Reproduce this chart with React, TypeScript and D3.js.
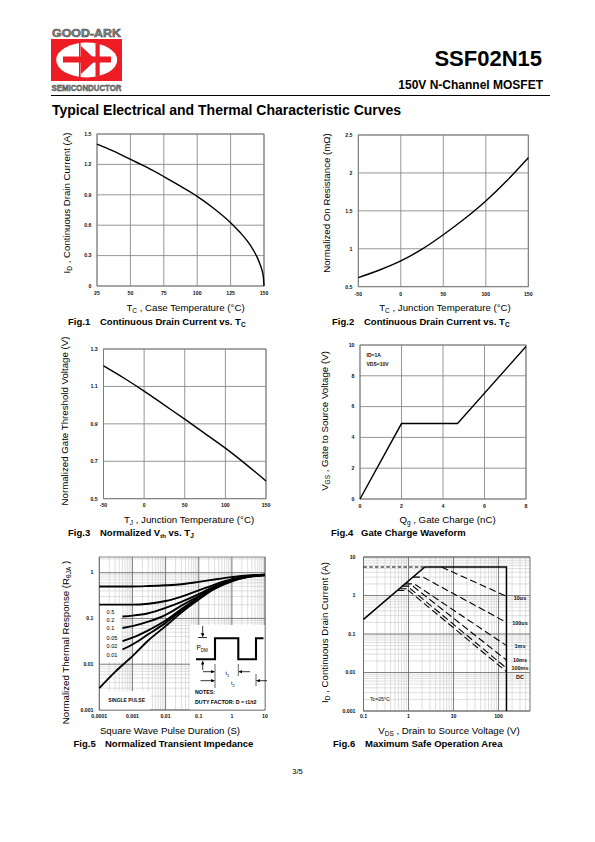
import React from "react";
import * as d3 from "d3";

const FONT = "'Liberation Sans', Arial, Helvetica, sans-serif";

type Pt = [number, number];
const zip = (xs: number[], ys: number[]): Pt[] => xs.map((v, i) => [v, ys[i]] as Pt);

// ---------- Fig.1 : Continuous drain current vs Tc
const fig1Temp = [25, 37.5, 50, 62.5, 75, 87.5, 100, 112.5, 125, 132, 138, 142, 145, 147, 148.5, 149.5, 150];
const fig1Current = [1.4, 1.33, 1.25, 1.17, 1.08, 0.985, 0.885, 0.765, 0.625, 0.53, 0.435, 0.355, 0.28, 0.215, 0.155, 0.09, 0];
const fig1XTicks = [25, 50, 75, 100, 125, 150];
const fig1YTicks = [0, 0.3, 0.6, 0.9, 1.2, 1.5];
const fig1YLabels = ["0", "0.3", "0.6", "0.9", "1.2", "1.5"];

// ---------- Fig.2 : Normalized on resistance vs Tj
const fig2Temp = [-50, -25, 0, 25, 50, 75, 100, 125, 150];
const fig2Res = [0.62, 0.72, 0.84, 0.995, 1.185, 1.395, 1.63, 1.9, 2.2];
const fig2XTicks = [-50, 0, 50, 100, 150];
const fig2YTicks = [0.5, 1, 1.5, 2, 2.5];
const fig2YLabels = ["0.5", "1", "1.5", "2", "2.5"];

// ---------- Fig.3 : Normalized Vth vs Tj
const fig3Temp = [-50, -25, 0, 25, 50, 75, 100, 125, 150];
const fig3Vth = [1.21, 1.145, 1.075, 1.0, 0.925, 0.848, 0.77, 0.685, 0.595];
const fig3XTicks = [-50, 0, 50, 100, 150];
const fig3YTicks = [0.5, 0.7, 0.9, 1.1, 1.3];
const fig3YLabels = ["0.5", "0.7", "0.9", "1.1", "1.3"];

// ---------- Fig.4 : Gate charge
const fig4Charge = [0, 2, 4.7, 8];
const fig4Vgs = [0, 4.9, 4.9, 9.9];
const fig4XTicks = [0, 2, 4, 6, 8];
const fig4YTicks = [0, 2, 4, 6, 8, 10];

// ---------- Fig.5 : Transient thermal impedance
const fig5TimeFull = [1e-4, 3e-4, 1e-3, 3e-3, 1e-2, 3e-2, 0.1, 0.3, 1, 3, 10];
const fig5TimeShort = [5e-4, 1e-3, 3e-3, 1e-2, 3e-2, 0.1, 0.3, 1, 3, 10];
const fig5D05 = [0.5, 0.5, 0.5, 0.51, 0.53, 0.56, 0.63, 0.71, 0.8, 0.87, 0.9];
const fig5D02 = [0.2, 0.2, 0.2, 0.21, 0.24, 0.3, 0.41, 0.55, 0.72, 0.84, 0.9];
const fig5D01 = [0.11, 0.115, 0.13, 0.17, 0.23, 0.34, 0.5, 0.69, 0.83, 0.9];
const fig5D005 = [0.062, 0.068, 0.085, 0.12, 0.19, 0.31, 0.48, 0.68, 0.82, 0.89];
const fig5D002 = [0.032, 0.038, 0.055, 0.09, 0.16, 0.29, 0.47, 0.67, 0.82, 0.89];
const fig5D001 = [0.021, 0.027, 0.045, 0.08, 0.15, 0.28, 0.46, 0.66, 0.81, 0.89];
const fig5Single = [0.003, 0.0068, 0.015, 0.033, 0.068, 0.135, 0.26, 0.44, 0.65, 0.8, 0.88];
const fig5DutyLabels = ["0.5", "0.2", "0.1", "0.05", "0.02", "0.01"];
const fig5XTicks = [1e-4, 1e-3, 1e-2, 0.1, 1, 10];
const fig5XLabels = ["0.0001", "0.001", "0.01", "0.1", "1", "10"];
const fig5YTicks = [0.001, 0.01, 0.1, 1];
const fig5YLabels = ["0.001", "0.01", "0.1", "1"];

// ---------- Fig.6 : Safe operating area
const soaBoundV = [0.1, 2.3, 150, 150];
const soaBoundI = [0.24, 5.5, 5.5, 0.001];
const soaExtV = [0.1, 2.3];
const soaExtI = [5.5, 5.5];
const soa10usV = [5.4, 150];
const soa10usI = [5.5, 0.95];
const soa100usV = [1.25, 2.1, 150];
const soa100usI = [3.0, 3.0, 0.2];
const soa1msV = [0.83, 1.35, 150];
const soa1msI = [2.0, 2.0, 0.05];
const soa10msV = [0.73, 1.25, 150];
const soa10msI = [1.75, 1.75, 0.021];
const soa100msV = [0.63, 1.1, 150];
const soa100msI = [1.5, 1.5, 0.013];
const soaDCV = [0.56, 1.0, 150];
const soaDCI = [1.35, 1.35, 0.0105];
const soaLabels = ["10us", "100us", "1ms", "10ms", "100ms", "DC"];
const soaLabelY = [600, 624.5, 647.5, 662, 670, 678.5];
const fig6XTicks = [0.1, 1, 10, 100];
const fig6XLabels = ["0.1", "1", "10", "100"];
const fig6YTicks = [0.001, 0.01, 0.1, 1, 10];
const fig6YLabels = ["0.001", "0.01", "0.1", "1", "10"];

const TICK: any = { fontFamily: FONT, fontSize: 5.2, fontWeight: 700, fill: "#111" };
const TITLE: any = { fontFamily: FONT, fontSize: 9.7, fill: "#000" };
const CAP: any = { fontFamily: FONT, fontSize: 9.5, fontWeight: 700, fill: "#000" };

// main text + subscript + rest, as tspans
function subText(main: string, sub: string, rest: string, size = 6.5) {
  return [
    <tspan key="m">{main}</tspan>,
    <tspan key="s" fontSize={size} dy={2}>{sub}</tspan>,
    ...(rest ? [<tspan key="r" dy={-2}>{rest}</tspan>] : []),
  ];
}

type LinProps = {
  l: number; r: number; t: number; b: number;
  xDomain: [number, number]; yDomain: [number, number];
  xTicks: number[]; yTicks: number[]; yLabels?: string[];
  data: Pt[]; curve?: any; yLabelX: number; xLabelY: number;
};

function LinearPanel(p: LinProps) {
  const x = d3.scaleLinear().domain(p.xDomain).range([p.l, p.r]);
  const y = d3.scaleLinear().domain(p.yDomain).range([p.b, p.t]);
  const line = d3.line<Pt>().x((d) => x(d[0])).y((d) => y(d[1])).curve(p.curve || d3.curveMonotoneX);
  return (
    <g>
      {p.xTicks.map((t, i) => (
        <line key={"gx" + i} x1={x(t)} x2={x(t)} y1={p.t} y2={p.b} stroke="#8a8a8a" strokeWidth={0.9} />
      ))}
      {p.yTicks.map((t, i) => (
        <line key={"gy" + i} x1={p.l} x2={p.r} y1={y(t)} y2={y(t)} stroke="#8a8a8a" strokeWidth={0.9} />
      ))}
      <rect x={p.l} y={p.t} width={p.r - p.l} height={p.b - p.t} fill="none" stroke="#7a7a7a" strokeWidth={0.9} />
      {p.xTicks.map((t, i) => (
        <text key={"lx" + i} x={x(t)} y={p.xLabelY} textAnchor="middle" {...TICK}>{String(t)}</text>
      ))}
      {p.yTicks.map((t, i) => (
        <text key={"ly" + i} x={p.yLabelX} y={y(t) + 1.8} textAnchor="end" {...TICK}>
          {p.yLabels ? p.yLabels[i] : String(t)}
        </text>
      ))}
      <path d={line(p.data) || ""} fill="none" stroke="#000" strokeWidth={1.4} />
    </g>
  );
}

function LogGrid(props: { x: any; y: any; l: number; r: number; t: number; b: number; majorX: number[]; majorY: number[] }) {
  const { x, y, l, r, t, b } = props;
  const minorX = x.ticks();
  const minorY = y.ticks();
  return (
    <g>
      {minorX.map((v: number, i: number) => (
        <line key={"mx" + i} x1={x(v)} x2={x(v)} y1={t} y2={b} stroke="#c4c4c4" strokeWidth={0.55} />
      ))}
      {minorY.map((v: number, i: number) => (
        <line key={"my" + i} x1={l} x2={r} y1={y(v)} y2={y(v)} stroke="#c4c4c4" strokeWidth={0.55} />
      ))}
      {props.majorX.map((v, i) => (
        <line key={"Mx" + i} x1={x(v)} x2={x(v)} y1={t} y2={b} stroke="#6a6a6a" strokeWidth={0.8} />
      ))}
      {props.majorY.map((v, i) => (
        <line key={"My" + i} x1={l} x2={r} y1={y(v)} y2={y(v)} stroke="#6a6a6a" strokeWidth={0.8} />
      ))}
    </g>
  );
}

function Fig5() {
  const l = 99.3, r = 265, t = 557, b = 710;
  const x = d3.scaleLog().domain([1e-4, 10]).range([l, r]);
  const y = d3.scaleLog().domain([0.001, 2.2]).range([b, t]);
  const line = d3.line<Pt>().x((d) => x(d[0])).y((d) => y(d[1])).curve(d3.curveMonotoneX);
  const curves: Pt[][] = [
    zip(fig5TimeFull, fig5D05),
    zip(fig5TimeFull, fig5D02),
    zip(fig5TimeShort, fig5D01),
    zip(fig5TimeShort, fig5D005),
    zip(fig5TimeShort, fig5D002),
    zip(fig5TimeShort, fig5D001),
    zip(fig5TimeFull, fig5Single),
  ];
  const dutyY = [613.5, 621.5, 630, 639.5, 648, 656.5];
  return (
    <g>
      <LogGrid x={x} y={y} l={l} r={r} t={t} b={b} majorX={fig5XTicks} majorY={fig5YTicks} />
      <rect x={l} y={t} width={r - l} height={b - t} fill="none" stroke="#6a6a6a" strokeWidth={0.8} />
      <rect x={100} y={604} width={21} height={58} fill="#fff" />
      <rect x={100} y={691} width={50} height={18.5} fill="#fff" />
      <rect x={190} y={625} width={74.5} height={84.5} fill="#fff" />
      {curves.map((c, i) => (
        <path key={"c" + i} d={line(c) || ""} fill="none" stroke="#000" strokeWidth={1.9} />
      ))}
      {fig5DutyLabels.map((s, i) => (
        <text key={"d" + i} x={106.5} y={dutyY[i]} fontFamily={FONT} fontSize={5.6} fill="#000">{s}</text>
      ))}
      <text x={108.3} y={701.8} fontFamily={FONT} fontSize={5} fontWeight={700} fill="#111">SINGLE PULSE</text>
      <path d="M196,659.3 H215 V638.3 H238.3 V659.3 H256 V638.3 H263.5" fill="none" stroke="#000" strokeWidth={2.1} />
      <line x1={202.7} x2={202.7} y1={626} y2={636.8} stroke="#000" strokeWidth={0.8} markerEnd="url(#arr)" />
      <line x1={198} x2={207} y1={637.5} y2={637.5} stroke="#000" strokeWidth={0.8} />
      <line x1={202.7} x2={202.7} y1={670} y2={661} stroke="#000" strokeWidth={0.8} markerEnd="url(#arr)" />
      <text x={196.5} y={649.5} fontFamily={FONT} fontSize={6.5} fill="#000">
        {subText("P", "DM", "", 4.5)}
      </text>
      <line x1={215} x2={215} y1={664} y2={688} stroke="#000" strokeWidth={0.6} />
      <line x1={238.3} x2={238.3} y1={664} y2={676} stroke="#000" strokeWidth={0.6} />
      <line x1={256} x2={256} y1={674} y2={686} stroke="#000" strokeWidth={0.6} />
      <line x1={203} x2={214.6} y1={671.7} y2={671.7} stroke="#000" strokeWidth={0.8} markerEnd="url(#arr)" />
      <line x1={250} x2={238.7} y1={671.7} y2={671.7} stroke="#000" strokeWidth={0.8} markerEnd="url(#arr)" />
      <line x1={200.5} x2={214.6} y1={680.7} y2={680.7} stroke="#000" strokeWidth={0.8} markerEnd="url(#arr)" />
      <line x1={267} x2={256.4} y1={680.7} y2={680.7} stroke="#000" strokeWidth={0.8} markerEnd="url(#arr)" />
      <text x={225.5} y={675} fontFamily={FONT} fontSize={5.5} fill="#000">{subText("t", "1", "", 4)}</text>
      <text x={231} y={684.5} fontFamily={FONT} fontSize={5.5} fill="#000">{subText("t", "2", "", 4)}</text>
      <text x={195} y={693.5} fontFamily={FONT} fontSize={5.3} fontWeight={700} fill="#000">NOTES:</text>
      <text x={195} y={703.5} fontFamily={FONT} fontSize={5.3} fontWeight={700} fill="#000">DUTY FACTOR: D = t1/t2</text>
      {fig5XTicks.map((v, i) => (
        <text key={"tx" + i} x={x(v)} y={718} textAnchor="middle" {...TICK}>{fig5XLabels[i]}</text>
      ))}
      {fig5YTicks.map((v, i) => (
        <text key={"ty" + i} x={93.5} y={y(v) + 1.8} textAnchor="end" {...TICK}>{fig5YLabels[i]}</text>
      ))}
    </g>
  );
}

function Fig6() {
  const l = 363.5, r = 530, t = 557, b = 711;
  const x = d3.scaleLog().domain([0.1, 500]).range([l, r]);
  const y = d3.scaleLog().domain([0.001, 10]).range([b, t]);
  const line = d3.line<Pt>().x((d) => x(d[0])).y((d) => y(d[1]));
  const pulses: Pt[][] = [
    zip(soa10usV, soa10usI),
    zip(soa100usV, soa100usI),
    zip(soa1msV, soa1msI),
    zip(soa10msV, soa10msI),
    zip(soa100msV, soa100msI),
    zip(soaDCV, soaDCI),
  ];
  return (
    <g>
      <LogGrid x={x} y={y} l={l} r={r} t={t} b={b} majorX={fig6XTicks} majorY={fig6YTicks} />
      <rect x={l} y={t} width={r - l} height={b - t} fill="none" stroke="#6a6a6a" strokeWidth={0.8} />
      <path d={line(zip(soaExtV, soaExtI)) || ""} fill="none" stroke="#000" strokeWidth={1.1} strokeDasharray="3.5,2.2" />
      {pulses.map((p, i) => (
        <path key={"p" + i} d={line(p) || ""} fill="none" stroke="#000" strokeWidth={1.1} strokeDasharray="7,3.5" />
      ))}
      <path d={line(zip(soaBoundV, soaBoundI)) || ""} fill="none" stroke="#000" strokeWidth={1.5} />
      {soaLabels.map((s, i) => (
        <text key={"s" + i} x={520} y={soaLabelY[i]} textAnchor="middle" fontFamily={FONT} fontSize={5.4} fontWeight={700} fill="#111">{s}</text>
      ))}
      <text x={370} y={701} fontFamily={FONT} fontSize={5.2} fill="#111">Tc=25°C</text>
      {fig6XTicks.map((v, i) => (
        <text key={"tx" + i} x={x(v)} y={718} textAnchor="middle" {...TICK}>{fig6XLabels[i]}</text>
      ))}
      {fig6YTicks.map((v, i) => (
        <text key={"ty" + i} x={355.5} y={y(v) + 1.8} textAnchor="end" {...TICK}>{fig6YLabels[i]}</text>
      ))}
    </g>
  );
}

function YTitle(props: { x: number; y: number; children: any }) {
  return (
    <text transform={`translate(${props.x},${props.y}) rotate(-90)`} textAnchor="middle" {...TITLE}>
      {props.children}
    </text>
  );
}

function Caption(props: { x: number; tx: number; y: number; fig: string; children: any }) {
  return (
    <g>
      <text x={props.x} y={props.y} {...CAP}>{props.fig}</text>
      <text x={props.tx} y={props.y} {...CAP}>{props.children}</text>
    </g>
  );
}

export default function App() {
  return (
    <svg width={595} height={842} style={{ position: "absolute", left: 0, top: 0, background: "#fff" }}>
      <defs>
        <marker id="arr" viewBox="0 0 6 6" refX={6} refY={3} markerWidth={4} markerHeight={3.5} markerUnits="userSpaceOnUse" orient="auto">
          <path d="M0,0 L6,3 L0,6 z" fill="#000" />
        </marker>
      </defs>
      <rect x={0} y={0} width={595} height={842} fill="#fff" />

      {/* ---------- header / logo ---------- */}
      <text x={52} y={36.5} fontFamily={FONT} fontSize={10} fontWeight={900} fill="#8c8c8c" stroke="#3a3a3a" strokeWidth={0.45} textLength={69} lengthAdjust="spacingAndGlyphs">GOOD-ARK</text>
      <rect x={51} y={39} width={71} height={42} fill="#ee1c24" />
      <ellipse cx={86.7} cy={60} rx={30.5} ry={17.4} fill="#fff" />
      <rect x={79} y={42} width={1.6} height={36} fill="#ee1c24" />
      <rect x={63} y={56.5} width={48} height={6} fill="#ee1c24" />
      <polygon points="81,46 81,74 96,60" fill="#ee1c24" />
      <rect x={95.5} y={43.5} width={4.2} height={33} fill="#ee1c24" />
      <text x={51.5} y={91} fontFamily={FONT} fontSize={9} fontWeight={900} fill="#8c8c8c" stroke="#3a3a3a" strokeWidth={0.45} textLength={70} lengthAdjust="spacingAndGlyphs">SEMICONDUCTOR</text>

      <text x={542} y={66} textAnchor="end" fontFamily={FONT} fontSize={22} fontWeight={700} fill="#000">SSF02N15</text>
      <text x={543} y={89} textAnchor="end" fontFamily={FONT} fontSize={12} fontWeight={700} fill="#000">150V N-Channel MOSFET</text>
      <line x1={51} x2={550} y1={95.5} y2={95.5} stroke="#000" strokeWidth={1.1} />
      <text x={52} y={114.5} fontFamily={FONT} fontSize={14} fontWeight={700} fill="#000">Typical Electrical and Thermal Characteristic Curves</text>

      {/* ---------- Fig.1 ---------- */}
      <LinearPanel l={97} r={264} t={134} b={286} xDomain={[25, 150]} yDomain={[0, 1.5]}
        xTicks={fig1XTicks} yTicks={fig1YTicks} yLabels={fig1YLabels} data={zip(fig1Temp, fig1Current)}
        yLabelX={91.5} xLabelY={295} />
      <text x={185.5} y={311} textAnchor="middle" {...TITLE}>{subText("T", "C", " , Case Temperature (°C)")}</text>
      <YTitle x={69.5} y={203}>{subText("I", "D", " , Continuous Drain Current (A)")}</YTitle>
      <Caption x={68} tx={100} y={325} fig="Fig.1">{subText("Continuous Drain Current vs. T", "C", "")}</Caption>

      {/* ---------- Fig.2 ---------- */}
      <LinearPanel l={358.3} r={528.3} t={135} b={286.7} xDomain={[-50, 150]} yDomain={[0.5, 2.5]}
        xTicks={fig2XTicks} yTicks={fig2YTicks} yLabels={fig2YLabels} data={zip(fig2Temp, fig2Res)}
        yLabelX={352.5} xLabelY={295.5} />
      <text x={445} y={311} textAnchor="middle" {...TITLE}>{subText("T", "C", " , Junction Temperature (°C)")}</text>
      <YTitle x={329.5} y={203}>Normalized On Resistance (mΩ)</YTitle>
      <Caption x={332} tx={364} y={325} fig="Fig.2">{subText("Continuous Drain Current vs. T", "C", "")}</Caption>

      {/* ---------- Fig.3 ---------- */}
      <LinearPanel l={103.5} r={266} t={349} b={498.7} xDomain={[-50, 150]} yDomain={[0.5, 1.3]}
        xTicks={fig3XTicks} yTicks={fig3YTicks} yLabels={fig3YLabels} data={zip(fig3Temp, fig3Vth)}
        yLabelX={97.7} xLabelY={506.5} />
      <text x={189} y={522.5} textAnchor="middle" {...TITLE}>{subText("T", "J", " , Junction Temperature (°C)")}</text>
      <YTitle x={67.5} y={421}>Normalized Gate Threshold Voltage (V)</YTitle>
      <Caption x={68} tx={100} y={536} fig="Fig.3">
        <tspan>Normalized V</tspan>
        <tspan fontSize={6} dy={2}>th</tspan>
        <tspan dy={-2}> vs. T</tspan>
        <tspan fontSize={6.5} dy={2}>J</tspan>
      </Caption>

      {/* ---------- Fig.4 ---------- */}
      <LinearPanel l={360} r={526} t={345} b={499} xDomain={[0, 8]} yDomain={[0, 10]}
        xTicks={fig4XTicks} yTicks={fig4YTicks} data={zip(fig4Charge, fig4Vgs)} curve={d3.curveLinear}
        yLabelX={354.5} xLabelY={508} />
      <text x={366.5} y={357} fontFamily={FONT} fontSize={5} fontWeight={700} fill="#111">ID=1A</text>
      <text x={366.5} y={365.5} fontFamily={FONT} fontSize={5} fontWeight={700} fill="#111">VDS=10V</text>
      <text x={447.5} y={522.5} textAnchor="middle" {...TITLE}>{subText("Q", "g", " , Gate Charge (nC)")}</text>
      <YTitle x={327.5} y={421}>{subText("V", "GS", " , Gate to Source Voltage (V)")}</YTitle>
      <Caption x={331} tx={361} y={536} fig="Fig.4">Gate Charge Waveform</Caption>

      {/* ---------- Fig.5 ---------- */}
      <Fig5 />
      <text x={170} y={734} textAnchor="middle" {...TITLE}>Square Wave Pulse Duration (S)</text>
      <YTitle x={69} y={642.5}>{subText("Normalized Thermal Response (R", "θJA", " )")}</YTitle>
      <Caption x={73.5} tx={105} y={747} fig="Fig.5">Normalized Transient Impedance</Caption>

      {/* ---------- Fig.6 ---------- */}
      <Fig6 />
      <text x={449} y={734} textAnchor="middle" {...TITLE}>{subText("V", "DS", " , Drain to Source Voltage (V)")}</text>
      <YTitle x={328} y={632.5}>{subText("I", "D", " , Continuous Drain Current (A)")}</YTitle>
      <Caption x={333} tx={365} y={747} fig="Fig.6">Maximum Safe Operation Area</Caption>

      <text x={297.5} y={774} textAnchor="middle" fontFamily={FONT} fontSize={7.5} fill="#000">3/5</text>
    </svg>
  );
}
